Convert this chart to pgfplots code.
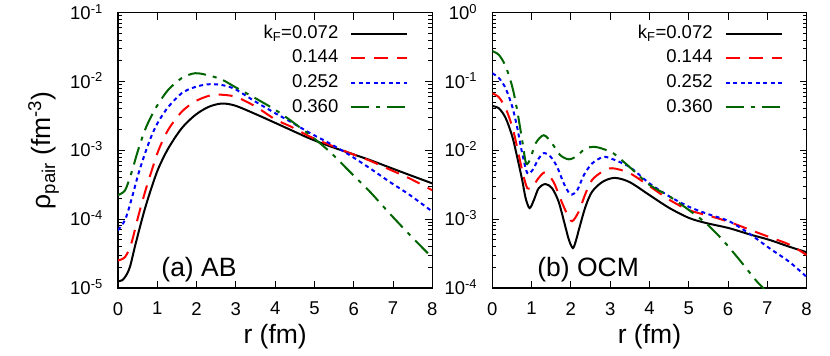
\documentclass[border=0pt]{standalone}
\usepackage{fontspec}
\setmainfont{Liberation Sans}
\usepackage{pgfplots}
\pgfplotsset{compat=1.18}
\definecolor{dkgreen}{RGB}{0,100,0}
\tikzset{
  c1/.style={black, line width=2bp},
  c2/.style={red, line width=2bp, dash pattern=on 14bp off 9bp},
  c3/.style={blue, line width=2bp, dash pattern=on 4bp off 3.5bp},
  c4/.style={dkgreen, line width=2bp, dash pattern=on 18bp off 7bp on 4bp off 7bp},
}
\pgfplotsset{
  mypanel/.style={
    scale only axis, width=314.3bp, height=275.3bp,
    xmin=0, xmax=8, xtick={0,...,8},
    axis line style={line width=1.2bp},
    every tick/.style={black, line width=1bp},
    major tick length=7bp, minor tick length=4bp,
    tick label style={font=\fontsize{18.5bp}{22bp}\selectfont},
    /pgf/number format/assume math mode=true,
    xticklabel style={anchor=north, inner sep=0pt, yshift=-14bp},
    yticklabel style={anchor=base east, inner sep=0pt, xshift=-15bp, yshift=-6.6bp},
    label style={font=\fontsize{26.5bp}{30bp}\selectfont},
    xlabel={r (fm)},
    xlabel style={at={(axis description cs:0.5,-0.203)}, anchor=base},
    legend style={at={(rel axis cs:1,1)}, anchor=north east, xshift=-24bp, yshift=-12.3bp,
      draw=none, fill=none, inner sep=0pt, outer sep=0pt,
      font=\fontsize{18.5bp}{22bp}\selectfont, row sep=7.3bp, column sep=12bp,
      nodes={inner sep=0pt, text height=13.3bp, text depth=4bp}},
    legend cell align=right, legend plot pos=right,
    legend image code/.code={\draw[##1] (0bp,0bp) -- (56bp,0bp);},
  },
}
\begin{document}
\begin{tikzpicture}[x=1bp,y=1bp]
\path[use as bounding box] (0,0) rectangle (830,355);
\begin{axis}[mypanel, ymode=log, at={(118bp,67bp)}, anchor=south west,
  ymin=1e-5, ymax=1e-1,
  ytick={1e-5,1e-4,1e-3,1e-2,1e-1},
  yticklabels={10\textsuperscript{-5},10\textsuperscript{-4},10\textsuperscript{-3},10\textsuperscript{-2},10\textsuperscript{-1}},
  ylabel={ρ\textsubscript{pair} (fm\textsuperscript{-3})},
  ylabel style={at={(axis description cs:-0.216,0.5)}, anchor=base},
]
\addplot[c1, smooth] coordinates {(0,1.26e-5)(0.1,1.29e-5)(0.2,1.5e-5)(0.305,2.04e-5)(0.43,3.98e-5)(0.56,7.76e-5)(0.69,1.45e-4)(0.86,2.95e-4)(1.03,5.50e-4)(1.28,1.07e-3)(1.62,2.09e-3)(1.96,3.24e-3)(2.30,4.27e-3)(2.64,4.79e-3)(2.98,4.47e-3)(3.49,3.39e-3)(4.0,2.51e-3)(4.38,2.00e-3)(4.89,1.48e-3)(5.39,1.15e-3)(5.90,9.12e-4)(6.41,7.24e-4)(6.92,5.62e-4)(7.43,4.37e-4)(8.0,3.31e-4)};
\addlegendentry{k\textsubscript{F}=0.072}
\addplot[c2, smooth] coordinates {(0,2.51e-5)(0.18,2.82e-5)(0.34,4.47e-5)(0.51,1.07e-4)(0.69,2.51e-4)(0.86,5.13e-4)(1.03,1.0e-3)(1.28,2.0e-3)(1.62,3.63e-3)(1.96,5.13e-3)(2.30,6.17e-3)(2.55,6.46e-3)(2.98,6.03e-3)(3.49,4.37e-3)(4.0,2.82e-3)(4.38,2.24e-3)(4.89,1.58e-3)(5.39,1.20e-3)(5.90,9.12e-4)(6.41,7.08e-4)(6.92,5.25e-4)(7.43,3.89e-4)(8.0,2.63e-4)};
\addlegendentry{0.144}
\addplot[c3, smooth] coordinates {(0,6.92e-5)(0.18,9.77e-5)(0.34,1.91e-4)(0.51,4.37e-4)(0.69,9.12e-4)(0.86,1.66e-3)(1.03,2.63e-3)(1.28,4.27e-3)(1.62,6.76e-3)(1.96,8.32e-3)(2.30,9.12e-3)(2.64,8.91e-3)(2.98,7.76e-3)(3.49,5.13e-3)(4.0,3.47e-3)(4.38,2.63e-3)(4.89,1.78e-3)(5.39,1.26e-3)(5.90,8.51e-4)(6.41,5.50e-4)(6.92,3.47e-4)(7.43,2.24e-4)(8.0,1.29e-4)};
\addlegendentry{0.252}
\addplot[c4, smooth] coordinates {(0,2.24e-4)(0.18,2.63e-4)(0.34,4.68e-4)(0.51,1.0e-3)(0.69,2.0e-3)(0.86,3.24e-3)(1.03,4.79e-3)(1.28,7.59e-3)(1.62,1.12e-2)(1.96,1.32e-2)(2.30,1.23e-2)(2.64,1.07e-2)(2.98,8.32e-3)(3.49,5.75e-3)(4.0,3.89e-3)(4.38,2.75e-3)(4.89,1.66e-3)(5.39,9.55e-4)(5.90,4.90e-4)(6.41,2.51e-4)(6.92,1.20e-4)(7.43,5.89e-5)(8.0,2.75e-5)};
\addlegendentry{0.360}
\node[anchor=base west, font=\fontsize{26.5bp}{30bp}\selectfont] at (rel axis cs:0.127,0.04) {(a) AB};
\end{axis}
\begin{axis}[mypanel, ymode=log, at={(492.3bp,67bp)}, anchor=south west,
  ymin=1e-4, ymax=1,
  ytick={1e-4,1e-3,1e-2,1e-1,1},
  yticklabels={10\textsuperscript{-4},10\textsuperscript{-3},10\textsuperscript{-2},10\textsuperscript{-1},10\textsuperscript{0}},
]
\addplot[c1, smooth] coordinates {(0,4.41e-2)(0.17,4.07e-2)(0.34,2.95e-2)(0.51,1.58e-2)(0.63,8.13e-3)(0.76,3.72e-3)(0.85,2.0e-3)(0.95,1.45e-3)(1.06,1.91e-3)(1.18,2.82e-3)(1.35,3.24e-3)(1.52,2.82e-3)(1.69,1.78e-3)(1.86,7.76e-4)(1.95,5.0e-4)(2.05,3.80e-4)(2.13,4.9e-4)(2.2,6.92e-4)(2.37,1.51e-3)(2.54,2.51e-3)(2.8,3.47e-3)(3.11,3.98e-3)(3.49,3.47e-3)(4.0,2.24e-3)(4.51,1.45e-3)(5.01,1.04e-3)(5.44,8.8e-4)(6.03,7.4e-4)(6.54,6.03e-4)(7.05,5.01e-4)(7.56,3.98e-4)(8.0,3.31e-4)};
\addlegendentry{k\textsubscript{F}=0.072}
\addplot[c2, smooth] coordinates {(0,6.76e-2)(0.17,5.89e-2)(0.34,4.07e-2)(0.51,2.19e-2)(0.63,1.12e-2)(0.76,5.13e-3)(0.89,2.82e-3)(1.02,2.95e-3)(1.18,3.98e-3)(1.35,4.79e-3)(1.56,3.47e-3)(1.73,2.0e-3)(1.9,1.20e-3)(2.03,9.33e-4)(2.2,1.29e-3)(2.37,2.34e-3)(2.54,3.72e-3)(2.8,4.90e-3)(3.05,5.50e-3)(3.49,4.68e-3)(4.0,3.02e-3)(4.51,1.91e-3)(5.01,1.35e-3)(5.52,1.12e-3)(6.03,9.12e-4)(6.54,7.08e-4)(7.05,5.50e-4)(7.56,4.27e-4)(8.0,3.02e-4)};
\addlegendentry{0.144}
\addplot[c3, smooth] coordinates {(0,0.132)(0.17,0.112)(0.34,7.94e-2)(0.51,4.27e-2)(0.63,2.19e-2)(0.76,9.12e-3)(0.89,4.68e-3)(1.02,5.13e-3)(1.18,7.59e-3)(1.31,9.12e-3)(1.48,8.13e-3)(1.65,5.75e-3)(1.82,3.31e-3)(1.99,2.29e-3)(2.16,2.63e-3)(2.33,4.37e-3)(2.54,6.46e-3)(2.8,7.94e-3)(2.98,7.76e-3)(3.49,5.75e-3)(4.0,3.31e-3)(4.51,2.14e-3)(5.01,1.51e-3)(5.52,1.17e-3)(6.03,9.33e-4)(6.54,6.17e-4)(7.05,3.80e-4)(7.56,2.40e-4)(8.0,1.45e-4)};
\addlegendentry{0.252}
\addplot[c4, smooth] coordinates {(0,0.277)(0.17,0.243)(0.34,0.166)(0.51,8.32e-2)(0.63,3.89e-2)(0.76,1.41e-2)(0.86,6.46e-3)(0.97,7.59e-3)(1.1,1.26e-2)(1.31,1.66e-2)(1.52,1.26e-2)(1.73,8.51e-3)(1.95,7.41e-3)(2.16,8.32e-3)(2.37,1.07e-2)(2.62,1.12e-2)(2.88,1.02e-2)(3.1,8.91e-3)(3.49,5.75e-3)(4.0,3.16e-3)(4.51,2.14e-3)(5.01,1.35e-3)(5.44,8.71e-4)(5.86,5.01e-4)(6.29,2.57e-4)(6.71,1.29e-4)(6.92,9.55e-5)(7.2,5.6e-5)};
\addlegendentry{0.360}
\node[anchor=base west, font=\fontsize{26.5bp}{30bp}\selectfont] at (rel axis cs:0.132,0.04) {(b) OCM};
\end{axis}
\end{tikzpicture}
\end{document}
